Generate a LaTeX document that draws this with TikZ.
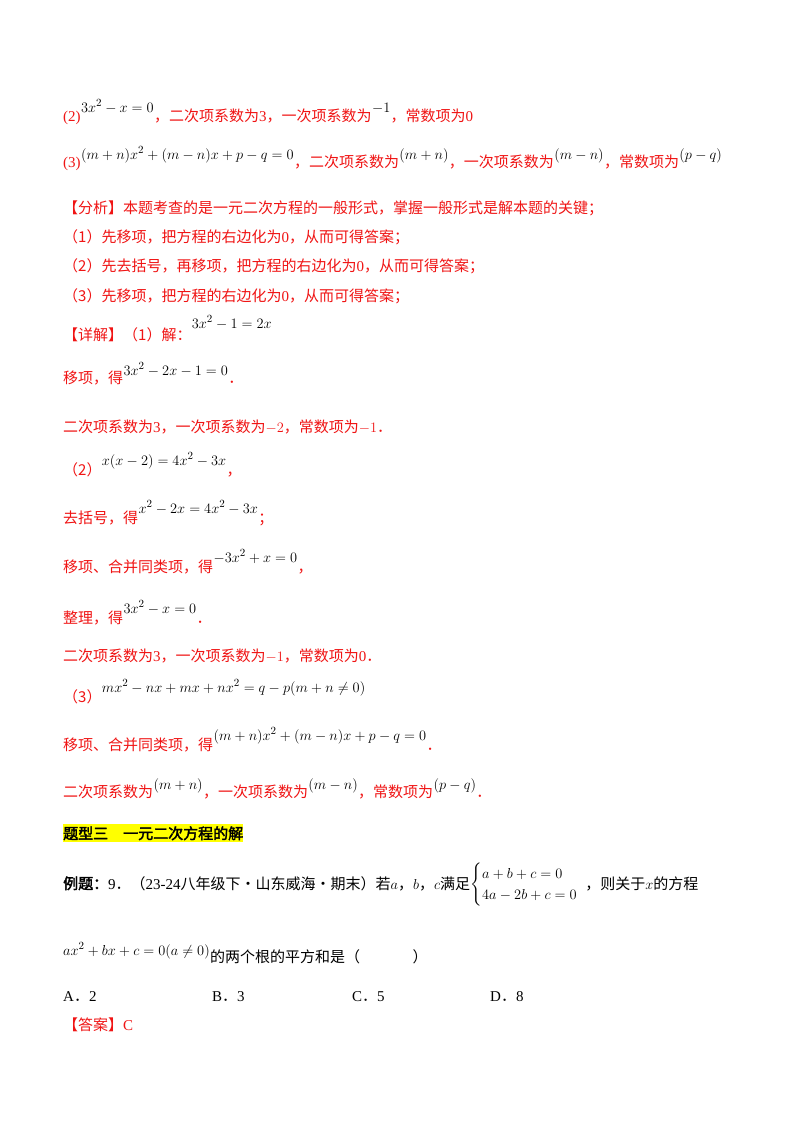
\documentclass[tikz,border=0pt]{standalone}
\usepackage{amsmath}
\usepackage{fontspec}
\setmainfont{Liberation Serif}
\newfontfamily\cjk{Noto Sans CJK SC}
\newfontfamily\cjkb{Noto Sans CJK SC}[FakeBold=2.5]
\newcommand{\zh}[1]{{\cjk #1}}
\newcommand{\zhb}[1]{{\cjkb #1}}
\newcommand{\dt}{{\cjk ．}}
\definecolor{myred}{RGB}{240,20,20}
\definecolor{hl}{RGB}{255,255,0}
\begin{document}
\begin{tikzpicture}[x=1pt,y=-1pt,
  t/.style={anchor=base west,inner sep=0pt,font=\fontsize{15}{17}\selectfont},
  r/.style={t,text=myred},
  m/.style={t,font=\fontsize{15}{17}\selectfont}]
\useasboundingbox[fill=white] (0,0) rectangle (800,1132);
% (2)
\node[r] (a1) at (63,121) {(2)};
\node[m] (a2) at ([yshift=9pt]a1.base east) {$3x^2-x=0$};
\node[r] (a3) at ([yshift=-9pt]a2.base east) {\zh{，二次项系数为}3\zh{，一次项系数为}};
\node[m] (a4) at ([yshift=9pt]a3.base east) {$-1$};
\node[r] (a5) at ([yshift=-9pt]a4.base east) {\zh{，常数项为}0};
% (3)
\node[r] (b1) at (63,167) {(3)};
\node[m] (b2) at ([yshift=8pt]b1.base east) {$(m+n)x^2+(m-n)x+p-q=0$};
\node[r] (b3) at ([yshift=-8pt]b2.base east) {\zh{，二次项系数为}};
\node[m] (b4) at ([yshift=8pt]b3.base east) {$(m+n)$};
\node[r] (b5) at ([yshift=-8pt]b4.base east) {\zh{，一次项系数为}};
\node[m] (b6) at ([yshift=8pt]b5.base east) {$(m-n)$};
\node[r] (b7) at ([yshift=-8pt]b6.base east) {\zh{，常数项为}};
\node[m] (b8) at ([yshift=8pt]b7.base east) {$(p-q)$};
% analysis
\node[r] (c1) at (63,213) {\zh{【分析】本题考查的是一元二次方程的一般形式，掌握一般形式是解本题的关键；}};
\node[r] (c2) at (63,242) {\zh{（1）先移项，把方程的右边化为}0\zh{，从而可得答案；}};
\node[r] (c3) at (63,271) {\zh{（2）先去括号，再移项，把方程的右边化为}0\zh{，从而可得答案；}};
\node[r] (c4) at (63,301) {\zh{（3）先移项，把方程的右边化为}0\zh{，从而可得答案；}};
% details
\node[r] (d1) at (63,340) {\zh{【详解】（1）解：}};
\node[m] (d2) at ([yshift=12pt]d1.base east) {$3x^2-1=2x$};
\node[r] (e1) at (63,383) {\zh{移项，得}};
\node[m] (e2) at ([yshift=8pt]e1.base east) {$3x^2-2x-1=0$};
\node[r] (e3) at ([yshift=-8pt]e2.base east) {\dt};
\node[r] (f1) at (63,432) {\zh{二次项系数为}3\zh{，一次项系数为}$-2$\zh{，常数项为}$-1$\dt};
\node[r] (g1) at (63,475) {\zh{（2）}};
\node[m] (g2) at ([yshift=10pt]g1.base east) {$x(x-2)=4x^2-3x$};
\node[r] (g3) at ([yshift=-10pt]g2.base east) {\zh{，}};
\node[r] (h1) at (63,523) {\zh{去括号，得}};
\node[m] (h2) at ([yshift=10pt]h1.base east) {$x^2-2x=4x^2-3x$};
\node[r] (h3) at ([yshift=-10pt]h2.base east) {\zh{；}};
\node[r] (i1) at (63,572) {\zh{移项、合并同类项，得}};
\node[m] (i2) at ([yshift=10pt]i1.base east) {$-3x^2+x=0$};
\node[r] (i3) at ([yshift=-10pt]i2.base east) {\zh{，}};
\node[r] (j1) at (63,623) {\zh{整理，得}};
\node[m] (j2) at ([yshift=10pt]j1.base east) {$3x^2-x=0$};
\node[r] (j3) at ([yshift=-10pt]j2.base east) {\dt};
\node[r] (k1) at (63,661) {\zh{二次项系数为}3\zh{，一次项系数为}$-1$\zh{，常数项为}0\dt};
\node[r] (l1) at (63,702) {\zh{（3）}};
\node[m] (l2) at ([yshift=10pt]l1.base east) {$mx^2-nx+mx+nx^2=q-p(m+n\neq0)$};
\node[r] (n1) at (63,750) {\zh{移项、合并同类项，得}};
\node[m] (n2) at ([yshift=10pt]n1.base east) {$(m+n)x^2+(m-n)x+p-q=0$};
\node[r] (n3) at ([yshift=-10pt]n2.base east) {\dt};
\node[r] (o1) at (63,797) {\zh{二次项系数为}};
\node[m] (o2) at ([yshift=8pt]o1.base east) {$(m+n)$};
\node[r] (o3) at ([yshift=-8pt]o2.base east) {\zh{，一次项系数为}};
\node[m] (o4) at ([yshift=8pt]o3.base east) {$(m-n)$};
\node[r] (o5) at ([yshift=-8pt]o4.base east) {\zh{，常数项为}};
\node[m] (o6) at ([yshift=8pt]o5.base east) {$(p-q)$};
\node[r] (o7) at ([yshift=-8pt]o6.base east) {\dt};
% section title
\node[t,fill=hl,inner ysep=2pt] (p1) at (63,839) {\zhb{题型三　一元二次方程的解}};
% example
\node[t] (q1) at (63,889) {\zhb{例题：}9\dt\zh{（}23-24\zh{八年级下·山东威海·期末）若}$a$\zh{，}$b$\zh{，}$c$\zh{满足}};
\node[m,anchor=west] (q2) at ([yshift=4pt]q1.base east) {$\begin{cases}a+b+c=0\\4a-2b+c=0\end{cases}$};
\node[t] (q3) at ([xshift=-8pt]q1.base -| q2.east) {\zh{，则关于}$x$\zh{的方程}};
\node[m] (s1) at (63,955) {$ax^2+bx+c=0(a\neq0)$};
\node[t] (s2) at ([yshift=-7pt]s1.base east) {\zh{的两个根的平方和是（}\hspace{3.5em}\zh{）}};
\node[t] (u1) at (63,1001) {A\dt 2};
\node[t] (u2) at (212,1001) {B\dt 3};
\node[t] (u3) at (352,1001) {C\dt 5};
\node[t] (u4) at (490,1001) {D\dt 8};
\node[r] (v1) at (63,1030) {\zh{【答案】}C};
\end{tikzpicture}
\end{document}
